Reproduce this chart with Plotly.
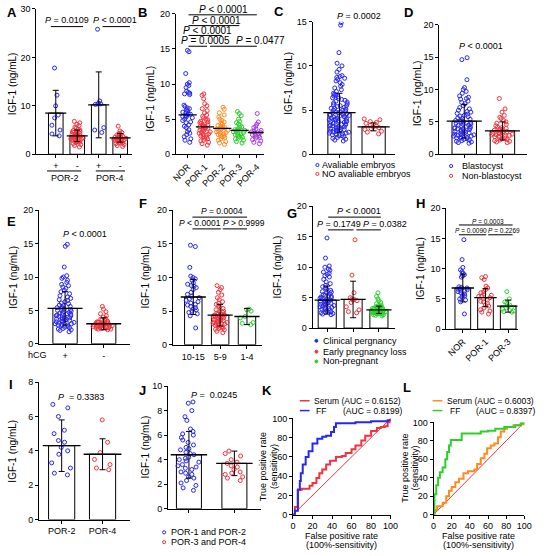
import plotly.graph_objects as go

W, H = 546, 556
FONT = "Arial, 'Liberation Sans', Helvetica, sans-serif"
BLUE = "#2626f2"; RED = "#f2333d"; ORANGE = "#ff8a1f"; GREEN = "#2bd12b"; PURPLE = "#a83be0"

def vals(s):
    return [float(v) for v in s.split()]

# ---------------- data ----------------
A_cats = ["POR-2 +", "POR-2 -", "POR-4 +", "POR-4 -"]
A_ticks = ["+", "-", "+", "-"]
A_pos2 = vals("17.8 12.2 10.0 8.1 7.5 6.0 5.0 4.2 3.8")
A_neg2 = vals("6.8 6.5 6.2 5.9 5.6 5.4 5.2 5.0 4.9 4.7 4.6 4.5 4.4 4.3 4.2 4.1 4.0 3.9 3.8 3.8 3.7 3.6 3.5 3.5 3.4 3.3 3.2 3.1 3.0 3.0 2.9 2.8 2.7 2.6 2.5 2.4 2.2 2.0 1.8 1.5")
A_pos4 = vals("25.8 11.0 10.5 10.4 10.4 10.3 5.5 4.5 5.0")
A_neg4 = vals("5.8 4.8 4.5 4.3 4.1 4.0 3.9 3.8 3.7 3.6 3.5 3.5 3.4 3.3 3.2 3.1 3.0 3.0 2.9 2.8 2.7 2.6 2.5 2.4 2.3 2.2 2.0 1.8 1.6")
A_means = [8.5, 3.8, 10.2, 3.4]
A_sds = [4.7, 1.2, 6.8, 0.9]

B_cats = ["NOR", "POR-1", "POR-2", "POR-3", "POR-4"]
B_nor = vals("14.8 14.6 11.5 10.2 10.0 9.8 9.5 9.0 8.8 8.7 8.6 8.5 7.0 6.8 6.6 6.5 6.3 6.2 6.0 5.9 5.8 5.7 5.6 5.5 5.4 5.3 5.2 5.0 4.8 4.6 4.5 4.2 4.0 3.8 3.5 3.2 3.0 2.8 2.5 2.2 2.0 1.7")
B_por1 = vals("8.6 8.4 7.9 7.2 6.9 6.5 6.2 5.9 5.6 5.4 5.2 5.0 4.9 4.7 4.6 4.5 4.4 4.3 4.2 4.1 4.0 3.9 3.9 3.8 3.7 3.6 3.5 3.4 3.3 3.2 3.1 3.0 2.9 2.8 2.7 2.6 2.5 2.4 2.3 2.2 2.0 1.9 1.7 1.5 1.3")
B_por2 = vals("6.7 6.4 5.9 5.6 5.3 5.0 4.8 4.6 4.4 4.3 4.1 4.0 3.9 3.8 3.7 3.7 3.6 3.5 3.4 3.3 3.2 3.1 3.0 2.9 2.8 2.7 2.6 2.5 2.4 2.2 2.0 1.8 1.6 1.4")
B_por3 = vals("6.1 5.8 5.5 5.0 4.7 4.5 4.3 4.1 3.9 3.8 3.6 3.5 3.4 3.4 3.3 3.2 3.1 3.0 2.9 2.8 2.7 2.6 2.5 2.4 2.3 2.2 2.0 1.8 1.6")
B_por4 = vals("5.8 4.6 4.3 4.0 3.8 3.6 3.4 3.3 3.2 3.1 3.0 2.9 2.8 2.7 2.6 2.5 2.4 2.3 2.1 1.9 1.7 1.5")
B_medians = [5.6, 3.9, 3.7, 3.4, 3.1]

C_cats = ["Avaliable embryos", "NO avaliable embryos"]
C_blue = vals("14.9 14.6 11.5 10.3 10.0 9.6 9.3 8.9 8.8 8.7 8.6 8.5 8.3 8.1 7.9 7.7 7.5 7.3 7.1 6.9 6.8 6.7 6.6 6.5 6.4 6.3 6.2 6.1 6.0 5.9 5.8 5.7 5.6 5.5 5.5 5.4 5.3 5.2 5.2 5.1 5.0 5.0 4.9 4.8 4.8 4.7 4.7 4.6 4.5 4.5 4.4 4.4 4.3 4.3 4.2 4.2 4.1 4.1 4.0 4.0 3.9 3.9 3.8 3.8 3.7 3.7 3.6 3.6 3.5 3.5 3.4 3.4 3.3 3.3 3.2 3.2 3.1 3.1 3.0 3.0 2.9 2.9 2.8 2.8 2.7 2.7 2.6 2.6 2.5 2.5 2.4 2.4 2.3 2.3 2.2 2.2 2.1 2.1 2.0 1.9 1.8 1.7 1.6 1.5")
C_red = vals("4.0 3.9 3.7 3.6 3.5 3.3 3.2 3.1 3.0 2.9 2.8 2.6 2.5 2.3")
C_means = [4.7, 3.1]
C_sds = [2.2, 0.45]

D_cats = ["Blastocyst", "Non-blastocyst"]
D_blue = vals("14.9 14.6 11.5 10.3 10.0 9.7 9.4 9.0 8.8 8.6 8.5 8.2 8.0 7.8 7.5 7.2 7.0 6.8 6.6 6.5 6.3 6.2 6.0 5.9 5.8 5.6 5.5 5.4 5.3 5.2 5.1 5.0 4.9 4.8 4.7 4.6 4.5 4.5 4.4 4.3 4.2 4.1 4.0 4.0 3.9 3.8 3.8 3.7 3.6 3.5 3.5 3.4 3.3 3.2 3.2 3.1 3.0 3.0 2.9 2.8 2.8 2.7 2.6 2.5 2.5 2.4 2.3 2.2 2.1 2.0 1.9 1.8 1.7")
D_red = vals("8.6 7.0 6.5 6.0 5.7 5.5 5.2 5.0 4.8 4.6 4.4 4.2 4.1 4.0 3.9 3.8 3.7 3.6 3.5 3.5 3.4 3.3 3.2 3.2 3.1 3.0 3.0 2.9 2.8 2.8 2.7 2.6 2.5 2.4 2.3 2.2 2.1 2.0 1.9 1.8")
D_means = [5.1, 3.6]
D_sds = [2.6, 1.4]

E_cats = ["+", "-"]
E_blue = vals("14.9 14.6 11.5 10.2 10.0 9.8 9.5 9.2 8.9 8.7 8.5 8.3 8.0 7.8 7.5 7.2 7.0 6.8 6.6 6.5 6.3 6.1 6.0 5.8 5.7 5.6 5.5 5.4 5.3 5.2 5.1 5.0 4.9 4.8 4.7 4.6 4.6 4.5 4.4 4.3 4.2 4.2 4.1 4.0 3.9 3.9 3.8 3.7 3.7 3.6 3.5 3.5 3.4 3.3 3.3 3.2 3.1 3.0 3.0 2.9 2.8 2.8 2.7 2.6 2.5 2.4 2.3 2.2 2.1 2.0 1.8")
E_red = vals("5.6 5.2 4.8 4.5 4.2 4.0 3.8 3.7 3.6 3.5 3.4 3.3 3.3 3.2 3.2 3.1 3.1 3.0 3.0 3.0 2.9 2.9 2.9 2.8 2.8 2.8 2.7 2.7 2.7 2.6 2.6 2.6 2.5 2.5 2.5 2.4 2.4 2.4 2.3 2.3 2.2 2.2 2.1")
E_means = [5.3, 3.0]
E_sds = [2.5, 0.9]

F_cats = ["10-15", "5-9", "1-4"]
F_blue = vals("14.8 14.6 11.5 10.2 10.0 9.8 9.6 9.2 9.0 8.8 8.7 8.5 8.2 7.8 7.5 7.2 7.0 6.8 6.6 6.4 6.2 6.0 5.9 5.7 5.5 5.3 5.2 5.0 4.8 4.6 4.3 2.5")
F_red = vals("8.8 8.5 8.2 7.8 7.4 7.0 6.7 6.4 6.2 6.0 5.8 5.6 5.4 5.2 5.0 4.9 4.8 4.7 4.6 4.5 4.5 4.4 4.3 4.2 4.2 4.1 4.0 4.0 3.9 3.8 3.8 3.7 3.6 3.6 3.5 3.4 3.4 3.3 3.2 3.2 3.1 3.0 3.0 2.9 2.8 2.7 2.6 2.5 2.4 2.3 2.2 2.0 1.8")
F_green = vals("5.3 5.2 5.0 4.2 4.0 3.3 3.2 3.0")
F_means = [7.1, 4.4, 4.2]
F_sds = [2.6, 1.6, 1.2]

G_cats = ["Clinical pergnancy", "Early pregnancy loss", "Non-pregnant"]
G_blue = vals("14.8 11.5 10.2 10.0 9.7 9.5 9.2 9.0 8.8 8.6 8.4 8.0 7.6 7.3 7.0 6.8 6.6 6.4 6.2 6.0 5.9 5.8 5.6 5.5 5.4 5.3 5.2 5.1 5.0 4.9 4.8 4.7 4.6 4.5 4.5 4.4 4.3 4.2 4.1 4.0 4.0 3.9 3.8 3.7 3.6 3.5 3.4 3.3 3.2 3.1 3.0 2.9 2.8 2.7 2.6 2.5 2.4 2.3 2.2")
G_red = vals("14.5 8.7 5.8 5.0 4.8 4.7 4.6 4.5 4.2 3.5 3.0 2.7 2.5")
G_green = vals("5.8 5.2 4.8 4.5 4.2 4.0 3.8 3.7 3.6 3.5 3.4 3.4 3.3 3.3 3.2 3.2 3.1 3.1 3.0 3.0 3.0 2.9 2.9 2.9 2.8 2.8 2.8 2.7 2.7 2.7 2.6 2.6 2.6 2.5 2.5 2.5 2.4 2.4 2.4 2.3 2.3 2.2 2.2 2.1 2.0")
G_means = [4.6, 4.7, 3.0]
G_sds = [2.3, 3.0, 0.6]

H_cats = ["NOR", "POR-1", "POR-3"]
H_blue = vals("14.8 11.5 10.2 9.8 9.5 9.2 9.0 8.8 8.6 7.0 6.9 6.8 6.7 6.6 6.5 6.4 6.3 6.2 6.0 5.8 5.6 5.5 5.3 5.0 4.8 4.5 2.5")
H_red = vals("8.7 8.5 8.2 7.1 6.8 6.5 6.2 6.0 5.8 5.6 5.5 5.4 5.2 5.0 4.8 4.6 4.5 4.3 4.0 3.8 3.5 3.2 3.0 2.8 2.5")
H_green = vals("6.2 5.0 4.5 4.3 4.0 3.8 3.6 3.5 3.3 3.0 2.9 2.8")
H_means = [6.8, 5.2, 3.8]
H_sds = [2.3, 1.5, 1.0]

I_cats = ["POR-2", "POR-4"]
I_blue = vals("6.7 6.5 6.0 5.2 5.0 4.6 4.5 4.2 4.0 3.8 3.3 3.0 2.7 2.6")
I_red = vals("5.8 4.5 3.9 3.5 3.2 3.0 2.9")
I_means = [4.3, 3.8]
I_sds = [1.5, 0.9]

J_cats = ["POR-1 and POR-2", "POR-3 and POR-4"]
J_blue = vals("8.7 8.6 8.0 7.5 7.2 6.5 6.3 6.1 6.0 5.8 5.6 5.4 5.2 5.0 4.9 4.8 4.6 4.5 4.4 4.2 4.1 4.0 3.9 3.8 3.6 3.5 3.4 3.3 3.2 3.0 2.9 2.8 2.6 2.5 2.3 2.1 1.9 1.7 1.5")
J_red = vals("4.7 4.5 4.3 4.0 3.8 3.7 3.5 3.4 3.2 3.0 2.9 2.8 2.6 2.5 2.3")
J_means = [4.4, 3.7]
J_sds = [1.9, 1.0]

K_serum_fpr = [0, 2, 5, 9, 13, 17, 20, 24, 27, 30, 34, 38, 44, 50, 54, 60, 64, 70, 74, 80, 86, 90, 94, 97, 100]
K_serum_tpr = [0, 8, 26, 27, 27, 30, 33, 38, 43, 47, 52, 56, 60, 61, 64, 68, 72, 77, 82, 87, 90, 91, 92, 96, 100]
K_ff_fpr = [0, 2, 5, 7, 8, 10, 13, 16, 20, 25, 30, 34, 39, 42, 44, 50, 64, 80, 94, 97, 100]
K_ff_tpr = [0, 4, 26, 35, 43, 52, 60, 66, 74, 79, 81, 82, 86, 91, 95, 95, 96, 97, 97, 98, 100]
L_serum_fpr = [0, 1, 4, 10, 14, 17, 20, 24, 28, 33, 38, 45, 48, 52, 56, 59, 63, 67, 71, 74, 78, 81, 88, 96, 100]
L_serum_tpr = [0, 5, 9, 13, 20, 26, 30, 35, 39, 45, 47, 49, 55, 61, 66, 72, 75, 77, 84, 90, 93, 95, 97, 98, 100]
L_ff_fpr = [0, 1, 3, 5, 7, 10, 13, 15, 17, 19, 28, 31, 40, 52, 60, 68, 78, 90, 96, 100]
L_ff_tpr = [0, 22, 32, 40, 46, 51, 60, 68, 75, 81, 81, 88, 88, 90, 91, 93, 95, 97, 99, 100]
REF_LINE = [0, 100]

# ---------------- helpers ----------------
def X(p): return p / W
def Y(p): return 1 - p / H

fig = go.Figure()
lay = {}
annotations = []
shapes = []

def axes(i, xd, yd, xr, yr, ytv, cats=None, ttext=None, showx=True, angle=0, xtv=None):
    xn = 'xaxis' if i == 1 else f'xaxis{i}'
    yn = 'yaxis' if i == 1 else f'yaxis{i}'
    xref = 'x' if i == 1 else f'x{i}'
    yref = 'y' if i == 1 else f'y{i}'
    common = dict(showline=True, linecolor='black', linewidth=1, ticks='outside', ticklen=3,
                  tickwidth=1, tickcolor='black', showgrid=False, zeroline=False,
                  tickfont=dict(size=9, color='black', family=FONT), fixedrange=True)
    xa = dict(domain=[X(xd[0]), X(xd[1])], range=xr, anchor=yref, **common)
    if cats:
        xa.update(type='category', categoryorder='array', categoryarray=cats,
                  tickvals=cats, ticktext=ttext or cats, tickangle=angle)
    else:
        xa.update(tickvals=xtv)
    if not showx:
        xa['showticklabels'] = False
    ya = dict(domain=[Y(yd[1]), Y(yd[0])], range=yr, anchor=xref, tickvals=ytv, **common)
    lay[xn] = xa
    lay[yn] = ya
    return xref, yref

def txt(x, y, s, size=9, xanchor='center', angle=0):
    annotations.append(dict(x=X(x), y=Y(y), xref='paper', yref='paper', text=s, showarrow=False,
                            xanchor=xanchor, yanchor='middle', textangle=angle, borderpad=0,
                            font=dict(size=size, color='black', family=FONT)))

def hline(x0, x1, y, color='black', width=1):
    shapes.append(dict(type='line', xref='paper', yref='paper', x0=X(x0), x1=X(x1),
                       y0=Y(y), y1=Y(y), line=dict(color=color, width=width)))

def dot(x, y, color, r=2, filled=False):
    shapes.append(dict(type='circle', xref='paper', yref='paper', x0=X(x - r), x1=X(x + r),
                       y0=Y(y + r), y1=Y(y - r), line=dict(color=color, width=1),
                       fillcolor=color if filled else 'rgba(0,0,0,0)'))

def points(xref, yref, cat, g, col, bw, size=4):
    fig.add_trace(go.Box(x=[cat] * len(g), y=g, xaxis=xref, yaxis=yref, boxpoints='all',
                         jitter=0.9, pointpos=0, width=bw,
                         line=dict(color='rgba(0,0,0,0)', width=0), fillcolor='rgba(0,0,0,0)',
                         marker=dict(symbol='circle-open', size=size, color=col,
                                     line=dict(color=col, width=1)),
                         showlegend=False, hoverinfo='y'))

def meanline(xref, yref, cats, ys, size, sds=None):
    tr = go.Scatter(x=cats, y=ys, xaxis=xref, yaxis=yref, mode='markers',
                    marker=dict(symbol='line-ew-open', size=size, color='black',
                                line=dict(color='black', width=1.3)),
                    showlegend=False, hoverinfo='skip')
    if sds is not None:
        tr.error_y = dict(type='data', array=sds, visible=True, color='black', thickness=1, width=3)
    fig.add_trace(tr)

def dotplot(xref, yref, cats, groups, colors, means, sds, bw, bw_px):
    fig.add_trace(go.Bar(x=cats, y=means, width=bw, xaxis=xref, yaxis=yref,
                         marker=dict(color='white', line=dict(color='black', width=1)),
                         showlegend=False))
    for c, g, col in zip(cats, groups, colors):
        points(xref, yref, c, g, col, bw)
    meanline(xref, yref, cats, means, bw_px, sds)

YT = "IGF-1 (ng/mL)"

# ---------------- A ----------------
xr, yr = axes(1, (32, 130), (4, 152), [-0.91, 3.545], [0, 30], [0, 10, 20, 30], A_cats, A_ticks)
dotplot(xr, yr, A_cats, [A_pos2, A_neg2, A_pos4, A_neg4], [BLUE, RED, BLUE, RED], A_means, A_sds, 0.68, 15)
txt(7, 8, "<b>A</b>", 13)
txt(8, 80, YT, 10, angle=-90)
hline(43, 78, 169); hline(93, 123, 169)
txt(61, 176, "POR-2", 9); txt(108, 176, "POR-4", 9)
txt(63, 15, "<i>P</i> = 0.0109", 9); hline(47, 80, 22)
txt(113, 15, "<i>P</i> < 0.0001", 9); hline(100, 128, 22)

# ---------------- B ----------------
xr, yr = axes(2, (175, 265), (9, 152), [-0.68, 4.39], [0, 20], [0, 5, 10, 15, 20], B_cats, angle=-45)
for c, g, col in zip(B_cats, [B_nor, B_por1, B_por2, B_por3, B_por4], [BLUE, RED, ORANGE, GREEN, PURPLE]):
    points(xr, yr, c, g, col, 0.8)
meanline(xr, yr, B_cats, B_medians, 13)
txt(141, 8, "<b>B</b>", 13)
txt(149, 95, YT, 10.5, angle=-90)
txt(224, 5, "<i>P</i> < 0.0001", 10); hline(188, 258, 10)
txt(217, 16, "<i>P</i> < 0.0001", 10); hline(188, 240, 21)
txt(207, 26, "<i>P</i> < 0.0001", 10); hline(188, 222, 31)
txt(205, 36, "<i>P</i> = 0.0005", 10); hline(188, 207, 42)
txt(262, 36, "<i>P</i> = 0.0477", 10); hline(210, 258, 42)

# ---------------- C ----------------
xr, yr = axes(3, (315, 400), (17, 152), [-0.79, 1.64], [0, 15], [0, 5, 10, 15], C_cats, showx=False)
dotplot(xr, yr, C_cats, [C_blue, C_red], [BLUE, RED], C_means, C_sds, 0.68, 23)
txt(281, 7, "<b>C</b>", 13)
txt(290, 80, YT, 10, angle=-90)
txt(363, 11, "<i>P</i> = 0.0002", 9)
dot(320, 163, BLUE, 1.6); txt(324, 163, "Avaliable embryos", 9, 'left')
dot(320, 172, RED, 1.6); txt(324, 172, "NO avaliable embryos", 9, 'left')

# ---------------- D ----------------
xr, yr = axes(4, (445, 535), (20, 152), [-0.65, 1.65], [0, 20], [0, 5, 10, 15, 20], D_cats, showx=False)
dotplot(xr, yr, D_cats, [D_blue, D_red], [BLUE, RED], D_means, D_sds, 0.64, 25)
txt(413, 8, "<b>D</b>", 13)
txt(422, 90, YT, 10.5, angle=-90)
txt(488, 42, "<i>P</i> < 0.0001", 9)
dot(457, 164, BLUE, 1.6); txt(467, 164, "Blastocyst", 9, 'left')
dot(457, 174, RED, 1.6); txt(467, 174, "Non-blastocyst", 9, 'left')

# ---------------- E ----------------
xr, yr = axes(5, (35, 128), (209, 345), [-0.67, 1.68], [0, 20], [0, 5, 10, 15, 20], E_cats)
dotplot(xr, yr, E_cats, [E_blue, E_red], [BLUE, RED], E_means, E_sds, 0.63, 25)
txt(7, 220, "<b>E</b>", 13)
txt(8, 277, YT, 10, angle=-90)
txt(82, 233, "<i>P</i> < 0.0001", 9)
txt(23, 356, "hCG", 9, 'left')

# ---------------- F ----------------
xr, yr = axes(6, (172, 263), (209, 346), [-0.76, 2.55], [0, 20], [0, 5, 10, 15, 20], F_cats)
dotplot(xr, yr, F_cats, [F_blue, F_red, F_green], [BLUE, RED, GREEN], F_means, F_sds, 0.65, 18)
txt(141, 202, "<b>F</b>", 13)
txt(143, 277, YT, 10, angle=-90)
txt(222, 210, "<i>P</i> = 0.0004", 8.5); hline(192, 248, 216)
txt(200, 222, "<i>P</i> < 0.0001", 8.5); hline(192, 221, 228)
txt(245, 222, "<i>P</i> > 0.9999", 8.5); hline(223, 248, 228)

# ---------------- G ----------------
xr, yr = axes(7, (315, 400), (205, 329), [-0.57, 2.64], [0, 20], [0, 5, 10, 15, 20], G_cats, showx=False)
dotplot(xr, yr, G_cats, [G_blue, G_red, G_green], [BLUE, RED, GREEN], G_means, G_sds, 0.7, 18)
txt(294, 212, "<b>G</b>", 13)
txt(279, 267, YT, 10, angle=-90)
txt(363, 210, "<i>P</i> < 0.0001", 9); hline(331, 385, 216)
txt(342, 223, "<i>P</i> = 0.1749", 9); hline(331, 357, 229)
txt(389, 223, "<i>P</i> = 0.0382", 9); hline(360, 385, 229)
dot(319, 342, BLUE, 1.5, True); txt(325, 342, "Clinical pergnancy", 9, 'left')
dot(319, 353, RED, 1.5, True); txt(325, 353, "Early pregnancy loss", 9, 'left')
dot(319, 363, GREEN, 1.5, True); txt(325, 363, "Non-pregnant", 9, 'left')

# ---------------- H ----------------
xr, yr = axes(8, (452, 525), (207, 330), [-0.73, 2.41], [0, 20], [0, 5, 10, 15, 20], H_cats, angle=-45)
dotplot(xr, yr, H_cats, [H_blue, H_red, H_green], [BLUE, RED, GREEN], H_means, H_sds, 0.69, 16)
txt(426, 202, "<b>H</b>", 13)
txt(425, 268, YT, 10, angle=-90)
txt(495, 220, "<i>P</i> = 0.0003", 6.5); hline(465, 520, 224)
txt(477, 230, "<i>P</i> = 0.0090", 6.5); hline(465, 493, 234)
txt(511, 230, "<i>P</i> = 0.2269", 6.5); hline(495, 520, 234)

# ---------------- I ----------------
xr, yr = axes(9, (35, 128), (384, 524), [-0.55, 1.67], [0, 8], [0, 2, 4, 6, 8], I_cats)
dotplot(xr, yr, I_cats, [I_blue, I_red], [BLUE, RED], I_means, I_sds, 0.64, 27)
txt(6, 386, "<b>I</b>", 13)
txt(8, 454, YT, 10, angle=-90)
txt(78, 399, "<i>P</i>  = 0.3383", 9)

# ---------------- J ----------------
xr, yr = axes(10, (167, 262), (388, 513), [-0.46, 1.58], [0, 10], [0, 2, 4, 6, 8, 10], J_cats, showx=False)
dotplot(xr, yr, J_cats, [J_blue, J_red], [BLUE, RED], J_means, J_sds, 0.55, 26)
txt(141, 393, "<b>J</b>", 13)
txt(144, 450, YT, 10, angle=-90)
txt(214, 397, "<i>P</i> =  0.0245", 9)
dot(163, 537, BLUE, 1.6); txt(169, 537, "POR-1 and POR-2", 9, 'left')
dot(163, 547, RED, 1.6); txt(169, 547, "POR-3 and POR-4", 9, 'left')

# ---------------- K ----------------
roc_ticks = [0, 20, 40, 60, 80, 100]
def roc(xref, yref, fx, fy, col, w=2):
    fig.add_trace(go.Scatter(x=fx, y=fy, xaxis=xref, yaxis=yref, mode='lines',
                             line=dict(color=col, width=w, shape='hv'), showlegend=False))

xr, yr = axes(11, (295, 395), (421, 519), [0, 100], [0, 100], roc_ticks, xtv=roc_ticks)
fig.add_trace(go.Scatter(x=REF_LINE, y=REF_LINE, xaxis=xr, yaxis=yr, mode='lines',
                         line=dict(color=RED, width=1), showlegend=False))
roc(xr, yr, K_serum_fpr, K_serum_tpr, RED)
roc(xr, yr, K_ff_fpr, K_ff_tpr, BLUE)
txt(268, 393, "<b>K</b>", 13)
hline(302, 312, 403, RED, 1.5); txt(316, 403, "Serum (AUC = 0.6152)", 8.5, 'left')
hline(302, 312, 413, BLUE, 1.5); txt(318, 413, "FF", 8.5, 'left'); txt(345, 413, "(AUC = 0.8199)", 8.5, 'left')
txt(264, 470, "True positive rate", 9, angle=-90)
txt(275, 470, "(sensitivity)", 9, angle=-90)
txt(345, 541, "False positive rate", 9)
txt(345, 550, "(100%-sensitivity)", 9)

# ---------------- L ----------------
xr, yr = axes(12, (439, 532), (425, 519), [0, 100], [0, 100], roc_ticks, xtv=roc_ticks)
fig.add_trace(go.Scatter(x=REF_LINE, y=REF_LINE, xaxis=xr, yaxis=yr, mode='lines',
                         line=dict(color=RED, width=1), showlegend=False))
roc(xr, yr, L_serum_fpr, L_serum_tpr, ORANGE)
roc(xr, yr, L_ff_fpr, L_ff_tpr, GREEN)
txt(412, 389, "<b>L</b>", 13)
hline(438, 448, 403, ORANGE, 1.5); txt(452, 403, "Serum (AUC = 0.6003)", 8.5, 'left')
hline(438, 448, 413, GREEN, 1.5); txt(455, 413, "FF", 8.5, 'left'); txt(481, 413, "(AUC = 0.8397)", 8.5, 'left')
txt(409, 472, "True positive rate", 9, angle=-90)
txt(420, 472, "(sensitivity)", 9, angle=-90)
txt(485, 541, "False positive rate", 9)
txt(485, 550, "(100%-sensitivity)", 9)

fig.update_layout(width=W, height=H, margin=dict(l=0, r=0, t=0, b=0), autosize=False,
                  paper_bgcolor='white', plot_bgcolor='white', boxmode='overlay',
                  font=dict(family=FONT, color='black'), annotations=annotations, shapes=shapes,
                  showlegend=False, **lay)
fig.write_html("out.html", config={'displayModeBar': False})
